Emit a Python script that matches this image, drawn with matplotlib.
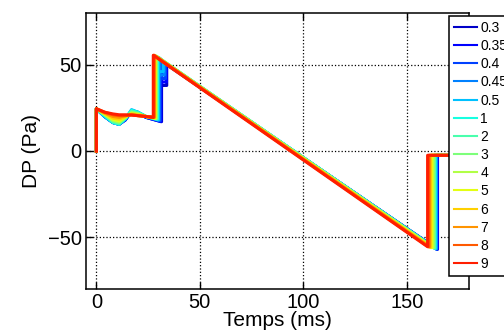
import numpy as np
import matplotlib
matplotlib.use('Agg')
import matplotlib.pyplot as plt

plt.rcParams['font.family'] = ['Liberation Sans', 'DejaVu Sans']

labels = ['0.3', '0.35', '0.4', '0.45', '0.5', '1', '2', '3', '4', '5', '6', '7', '8', '9']

# early part of each curve (t in ms, DP in Pa)
t_early = [0, 0, 4, 8, 11, 14, 17, 20, 24]
dp_early = [
    [0, 24.5, 20.0, 16.5, 15.5, 18.0, 23.0, 22.0, 19.5],
    [0, 24.5, 20.0, 16.5, 15.5, 18.0, 23.0, 22.0, 19.5],
    [0, 24.5, 20.0, 16.5, 15.5, 18.5, 23.5, 22.5, 19.5],
    [0, 24.5, 20.0, 16.5, 15.5, 18.5, 23.5, 22.5, 20.0],
    [0, 24.5, 20.0, 16.5, 15.5, 18.5, 24.0, 22.5, 20.0],
    [0, 24.5, 20.5, 16.5, 15.5, 19.0, 23.5, 22.5, 20.0],
    [0, 24.5, 21.0, 17.0, 16.0, 19.0, 23.0, 22.0, 20.0],
    [0, 24.5, 21.0, 17.5, 16.5, 19.5, 22.5, 21.5, 20.0],
    [0, 24.5, 21.5, 18.0, 17.0, 19.5, 22.0, 21.5, 20.0],
    [0, 24.5, 21.5, 18.5, 17.5, 20.0, 21.5, 21.0, 20.0],
    [0, 24.5, 22.0, 19.0, 18.5, 20.0, 21.5, 21.0, 20.0],
    [0, 24.5, 22.0, 20.0, 19.5, 20.5, 21.0, 20.5, 20.0],
    [0, 24.5, 22.5, 21.0, 20.5, 20.5, 21.0, 20.5, 20.0],
    [0, 24.5, 22.5, 21.5, 21.0, 21.0, 20.8, 20.5, 20.0],
]

t_jump = [31.5, 31.2, 30.8, 30.3, 30.0, 29.5, 29.2, 29.0, 28.7, 28.5, 28.3, 28.0, 27.8, 27.5]
dp_before_jump = [17.0, 17.0, 17.5, 18.0, 18.0, 18.5, 18.5, 19.0, 19.0, 19.0, 19.5, 19.5, 19.5, 19.5]
dp_peak = [52.5, 53.0, 53.5, 54.0, 54.0, 54.5, 54.5, 55.0, 55.0, 55.0, 55.0, 55.5, 55.5, 55.5]

# short dip after the jump for the low values
dp_dip = [38.0, 40.0, 42.0, 44.0, 46.0, None, None, None, None, None, None, None, None, None]
t_dip_end = [34.0, 33.8, 33.4, 32.8, 32.3, None, None, None, None, None, None, None, None, None]
dp_after_dip = [50.0, 50.5, 51.0, 51.5, 52.0, None, None, None, None, None, None, None, None, None]

t_fall = [164.8, 164.6, 164.4, 164.2, 164.0, 163.6, 163.3, 163.0, 162.5, 162.0, 161.5, 161.0, 160.5, 160.0]
dp_min = [-57.0, -57.0, -57.0, -56.8, -56.6, -56.5, -56.3, -56.2, -56.0, -56.0, -55.8, -55.7, -55.6, -55.5]
dp_final = -2.5
t_stop = 185

colors = plt.cm.jet(np.linspace(0.0625, 0.875, len(labels)))

fig = plt.figure(figsize=(5.04, 3.36), dpi=100)
ax = fig.add_axes([86 / 504, 1 - 289 / 336, (469 - 86) / 504, (289 - 13) / 336])

for i, lab in enumerate(labels):
    t = list(t_early) + [t_jump[i], t_jump[i]]
    dp = list(dp_early[i]) + [dp_before_jump[i], dp_peak[i]]
    if dp_dip[i] is not None:
        t += [t_jump[i], t_dip_end[i], t_dip_end[i]]
        dp += [dp_dip[i], dp_dip[i], dp_after_dip[i]]
    t += [t_fall[i], t_fall[i], t_stop]
    dp += [dp_min[i], dp_final, dp_final]
    ax.plot(t, dp, color=colors[i], lw=2.2, label=lab)

ax.set_xlim(-5, 180)
ax.set_ylim(-80, 80)
ax.set_xticks([0, 50, 100, 150])
ax.set_yticks([-50, 0, 50])
ax.set_yticklabels(['\u221250', '0', '50'])
ax.grid(True, linestyle=':', color='k', linewidth=0.9)
ax.tick_params(direction='in', length=5, width=1, top=True, right=True, labelsize=14.5, pad=3)
for sp in ax.spines.values():
    sp.set_linewidth(1.1)
ax.set_xlabel('Temps (ms)', fontsize=15, labelpad=-1)
ax.set_ylabel('DP (Pa)', fontsize=15, labelpad=5)

leg = ax.legend(loc='upper left', bbox_to_anchor=(449 / 504, 1 - 16 / 336),
                bbox_transform=fig.transFigure, borderaxespad=0, fontsize=10,
                handlelength=1.7, handletextpad=0.2, labelspacing=0.3,
                borderpad=0.35, fancybox=False, framealpha=1, edgecolor='k')
leg.get_frame().set_linewidth(1.1)
for line in leg.get_lines():
    line.set_linewidth(1.5)

fig.savefig('out.png', dpi=100)
